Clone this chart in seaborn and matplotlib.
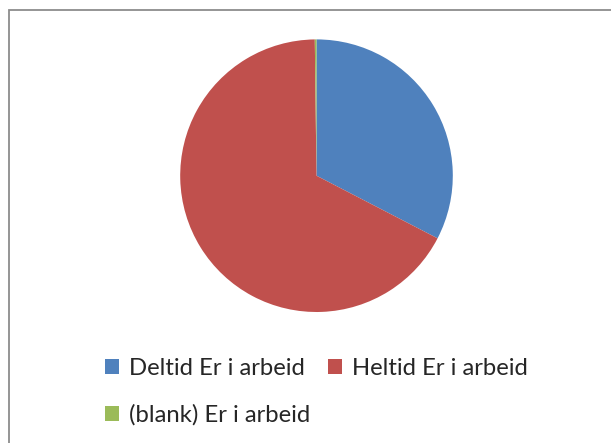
import matplotlib
matplotlib.use("Agg")
import matplotlib.pyplot as plt
import seaborn as sns
from matplotlib.patches import Rectangle

sns.set_theme(style="white")
plt.rcParams['font.family'] = ['Lato', 'DejaVu Sans']

labels = ["Deltid Er i arbeid", "Heltid Er i arbeid", "(blank) Er i arbeid"]
values = [32.6, 67.2, 0.2]
colors = ["#4F81BD", "#C0504D", "#9BBB59"]

W, H = 611, 443
fig = plt.figure(figsize=(W / 100, H / 100), dpi=100)
fig.patch.set_facecolor("white")

# outer chart border (top and left visible, others run off the image)
fig.patches.append(Rectangle((8.5 / W, -0.1), 1.2, (H - 10) / H + 0.1,
                             transform=fig.transFigure, fill=False,
                             edgecolor="#8c8c8c", linewidth=1.3))

cx, cy, r = 316.5, 175.7, 136.3
ax = fig.add_axes([(cx - r) / W, (H - cy - r) / H, 2 * r / W, 2 * r / H])
wedges, _ = ax.pie(values, colors=colors, startangle=90, counterclock=False,
                   radius=1.0, wedgeprops=dict(linewidth=0))
ax.set_xlim(-1, 1)
ax.set_ylim(-1, 1)
ax.set_aspect("equal")
ax.axis("off")

handles = [wedges[0], wedges[2], wedges[1]]
hlabels = [labels[0], labels[2], labels[1]]
leg = fig.legend(handles, hlabels, ncol=2, loc="upper left",
                 bbox_to_anchor=(105 / W, 1 - 358 / H),
                 frameon=False, fontsize=17.2, handlelength=0.58,
                 handleheight=0.58, handletextpad=0.42, columnspacing=0.75,
                 labelspacing=1.05, borderaxespad=0, borderpad=0)

fig.savefig("out.png", dpi=100, facecolor="white")
